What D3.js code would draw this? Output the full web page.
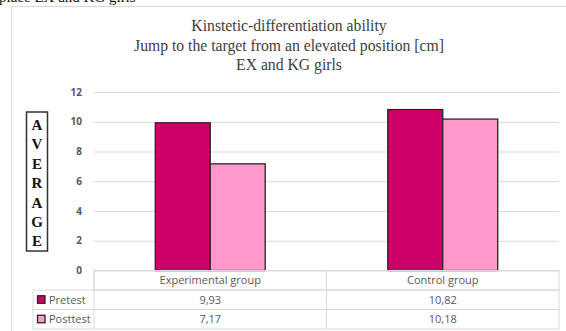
<!DOCTYPE html>
<html>
<head>
<meta charset="utf-8">
<script src="https://cdn.jsdelivr.net/npm/d3@7"></script>
<style>
  html, body { margin: 0; padding: 0; background: #fff; }
  svg { display: block; }
</style>
</head>
<body>
<svg id="chart" width="566" height="331"></svg>
<script>
// Chart data
const categories = ["Experimental group", "Control group"];
const seriesNames = ["Pretest", "Posttest"];
const pretest = [9.93, 10.82];
const posttest = [7.17, 10.18];
const yTicks = [0, 2, 4, 6, 8, 10, 12];
const titleLines = [
  "Kinstetic-differentiation ability",
  "Jump to the target from an elevated position [cm]",
  "EX and KG girls"
];
const axisLetters = ["A", "V", "E", "R", "A", "G", "E"];
const seriesColors = ["#cc0066", "#ff99cc"];

const series = [pretest, posttest];
const svg = d3.select("#chart");

// Caption line above the chart frame (runs off the top edge)
svg.append("text")
  .attr("x", -1).attr("y", 2)
  .attr("font-family", "'Liberation Serif', 'Times New Roman', serif")
  .attr("font-size", 15)
  .attr("fill", "#111")
  .text("place EX and KG girls");

// Chart frame
svg.append("rect")
  .attr("x", 11.5).attr("y", 6.5)
  .attr("width", 600).attr("height", 340)
  .attr("fill", "#fff")
  .attr("stroke", "#d9d9d9")
  .attr("stroke-width", 1);

// Title
const title = svg.append("text")
  .attr("font-family", "'Liberation Serif', 'Times New Roman', serif")
  .attr("font-size", 15.7)
  .attr("fill", "#404040")
  .attr("text-anchor", "middle");
titleLines.forEach((t, i) => {
  title.append("tspan").attr("x", 289).attr("y", 31 + i * 19.5).text(t);
});

// Plot geometry
const plotLeft = 94, plotRight = 559;
const y0 = 270.5, yTop = 92;

const x = d3.scaleBand().domain(categories).range([plotLeft, plotRight]).padding(0);
const xs = d3.scaleBand().domain(seriesNames).range([0, x.bandwidth()])
  .paddingInner(0).paddingOuter(1.115);
const y = d3.scaleLinear().domain([0, 12]).range([y0, yTop]);

// Gridlines and tick labels
const yAxis = d3.axisLeft(y)
  .tickValues(yTicks)
  .tickSize(-(plotRight - plotLeft))
  .tickPadding(12)
  .tickFormat(d3.format("d"));
const gy = svg.append("g")
  .attr("transform", `translate(${plotLeft},0)`)
  .call(yAxis);
gy.select(".domain").remove();
gy.selectAll(".tick line").attr("stroke", "#d9d9d9").attr("stroke-width", 1);
gy.selectAll(".tick text")
  .attr("font-family", "'Open Sans', 'Liberation Sans', sans-serif")
  .attr("font-size", 10)
  .attr("font-weight", "bold")
  .attr("fill", "#595959");

// Bars
const groups = svg.append("g").selectAll("g")
  .data(categories)
  .join("g")
  .attr("transform", d => `translate(${x(d)},0)`);

groups.selectAll("rect")
  .data((c, ci) => seriesNames.map((s, si) => ({ s, si, v: series[si][ci] })))
  .join("rect")
  .attr("x", d => xs(d.s))
  .attr("y", d => y(d.v))
  .attr("width", xs.bandwidth())
  .attr("height", d => y0 - y(d.v))
  .attr("fill", d => seriesColors[d.si])
  .attr("stroke", "#262626")
  .attr("stroke-width", 1.3);

// Vertical axis label box
svg.append("rect")
  .attr("x", 26.5).attr("y", 112)
  .attr("width", 21).attr("height", 139)
  .attr("fill", "#fff")
  .attr("stroke", "#333")
  .attr("stroke-width", 1.5);
svg.append("g").selectAll("text")
  .data(axisLetters)
  .join("text")
  .attr("x", 37)
  .attr("y", (d, i) => 130 + i * 19.4)
  .attr("text-anchor", "middle")
  .attr("font-family", "'Liberation Serif', 'Times New Roman', serif")
  .attr("font-size", 15)
  .attr("font-weight", "bold")
  .attr("fill", "#111")
  .text(d => d);

// Data table
const tableLeft = 33;
const rowY = [270.5, 290, 309.5, 329];
const tableFont = "'Open Sans', 'Liberation Sans', sans-serif";
const tableSize = 11;
const tbl = svg.append("g")
  .attr("stroke", "#d9d9d9")
  .attr("stroke-width", 1)
  .attr("fill", "none");

// header row border (category columns only)
tbl.append("rect")
  .attr("x", plotLeft).attr("y", rowY[0])
  .attr("width", plotRight - plotLeft).attr("height", rowY[1] - rowY[0]);
// series rows
seriesNames.forEach((s, i) => {
  tbl.append("rect")
    .attr("x", tableLeft).attr("y", rowY[i + 1])
    .attr("width", plotRight - tableLeft).attr("height", rowY[i + 2] - rowY[i + 1]);
});
// column dividers
categories.forEach(c => {
  tbl.append("line")
    .attr("x1", x(c)).attr("x2", x(c))
    .attr("y1", rowY[0]).attr("y2", rowY[3]);
});

// header labels
svg.append("g").selectAll("text")
  .data(categories)
  .join("text")
  .attr("x", d => x(d) + x.bandwidth() / 2)
  .attr("y", (rowY[0] + rowY[1]) / 2 + 4)
  .attr("text-anchor", "middle")
  .attr("font-family", tableFont)
  .attr("font-size", tableSize)
  .attr("fill", "#595959")
  .text(d => d);

// series rows: legend keys, names and values
const fmt = v => d3.format(".2f")(v).replace(".", ",");
seriesNames.forEach((s, si) => {
  const cy = (rowY[si + 1] + rowY[si + 2]) / 2;
  svg.append("rect")
    .attr("x", 37.5).attr("y", cy - 4)
    .attr("width", 7.5).attr("height", 7.5)
    .attr("fill", seriesColors[si])
    .attr("stroke", "#262626")
    .attr("stroke-width", 1.3);
  svg.append("text")
    .attr("x", 49).attr("y", cy + 4)
    .attr("font-family", tableFont)
    .attr("font-size", tableSize)
    .attr("fill", "#595959")
    .text(s);
  svg.append("g").selectAll("text")
    .data(categories)
    .join("text")
    .attr("x", d => x(d) + x.bandwidth() / 2)
    .attr("y", cy + 4)
    .attr("text-anchor", "middle")
    .attr("font-family", tableFont)
    .attr("font-size", tableSize)
    .attr("fill", "#595959")
    .text((d, ci) => fmt(series[si][ci]));
});
</script>
</body>
</html>
